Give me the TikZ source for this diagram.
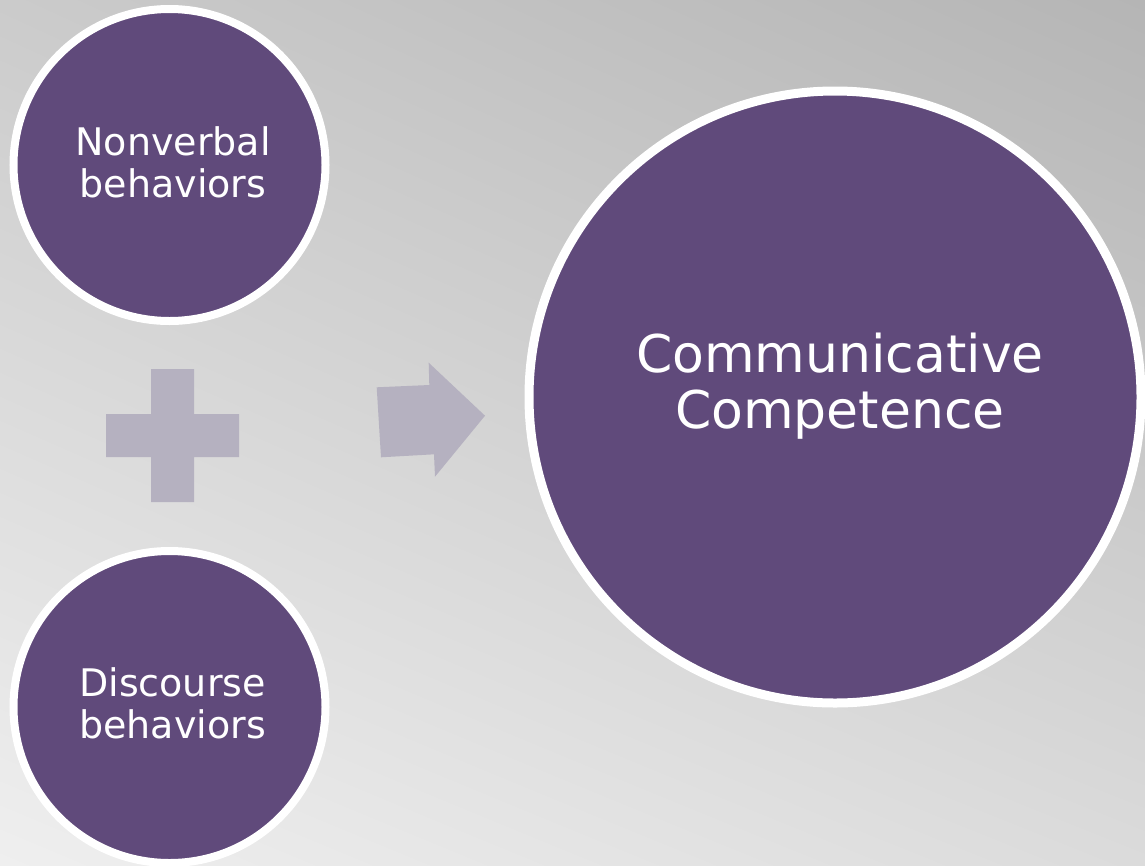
\documentclass[tikz,border=0pt]{standalone}
\usepackage{fontspec}
\usetikzlibrary{shadings}
\setmainfont{DejaVu Sans}
\definecolor{purp}{HTML}{604A7B}
\definecolor{shapegray}{HTML}{B5B1C0}
\definecolor{bgtl}{HTML}{CBCBCB}
\definecolor{bgtr}{HTML}{B5B5B5}
\definecolor{bgbl}{HTML}{EFEFEF}
\definecolor{bgbr}{HTML}{DBDBDB}
\begin{document}
\begin{tikzpicture}[x=1pt,y=-1pt,
  disc/.style={circle, fill=purp, draw=white, line width=8pt, inner sep=0pt, minimum size=312pt},
  bigdisc/.style={circle, fill=purp, draw=white, line width=9pt, inner sep=0pt, minimum size=612pt},
  smalltext/.style={text=white, align=center, inner sep=0pt, font=\fontsize{38}{42}\selectfont},
  bigtext/.style={text=white, align=center, inner sep=0pt, font=\fontsize{52}{56}\selectfont},
  blockshape/.style={fill=shapegray, draw=none}]
\useasboundingbox (0,0) rectangle (1145,865);
\shade[upper left=bgtl, upper right=bgtr, lower left=bgbl, lower right=bgbr] (0,0) rectangle (1145,865);

\node[disc] (nv) at (169.5,165) {};
\node[disc] (dc) at (169.5,707) {};
\node[bigdisc] (cc) at (835,397) {};

\node[smalltext] (nvt) at (173,162.7) {Nonverbal\\behaviors};
\node[smalltext] (dct) at (172.5,703.7) {Discourse\\behaviors};
\node[bigtext] (cct) at (840,386) {Communicative\\Competence};

% plus sign
\fill[blockshape] (151,369) -- (194,369) -- (194,414) -- (239,414) -- (239,457)
  -- (194,457) -- (194,502) -- (151,502) -- (151,457) -- (106,457) -- (106,414)
  -- (151,414) -- cycle;
% block arrow
\fill[blockshape] (376.7,387.3) -- (429.3,385) -- (428.7,362.7) -- (485,415.7)
  -- (435,476.7) -- (434,454.3) -- (381,457.3) -- cycle;
\end{tikzpicture}
\end{document}
